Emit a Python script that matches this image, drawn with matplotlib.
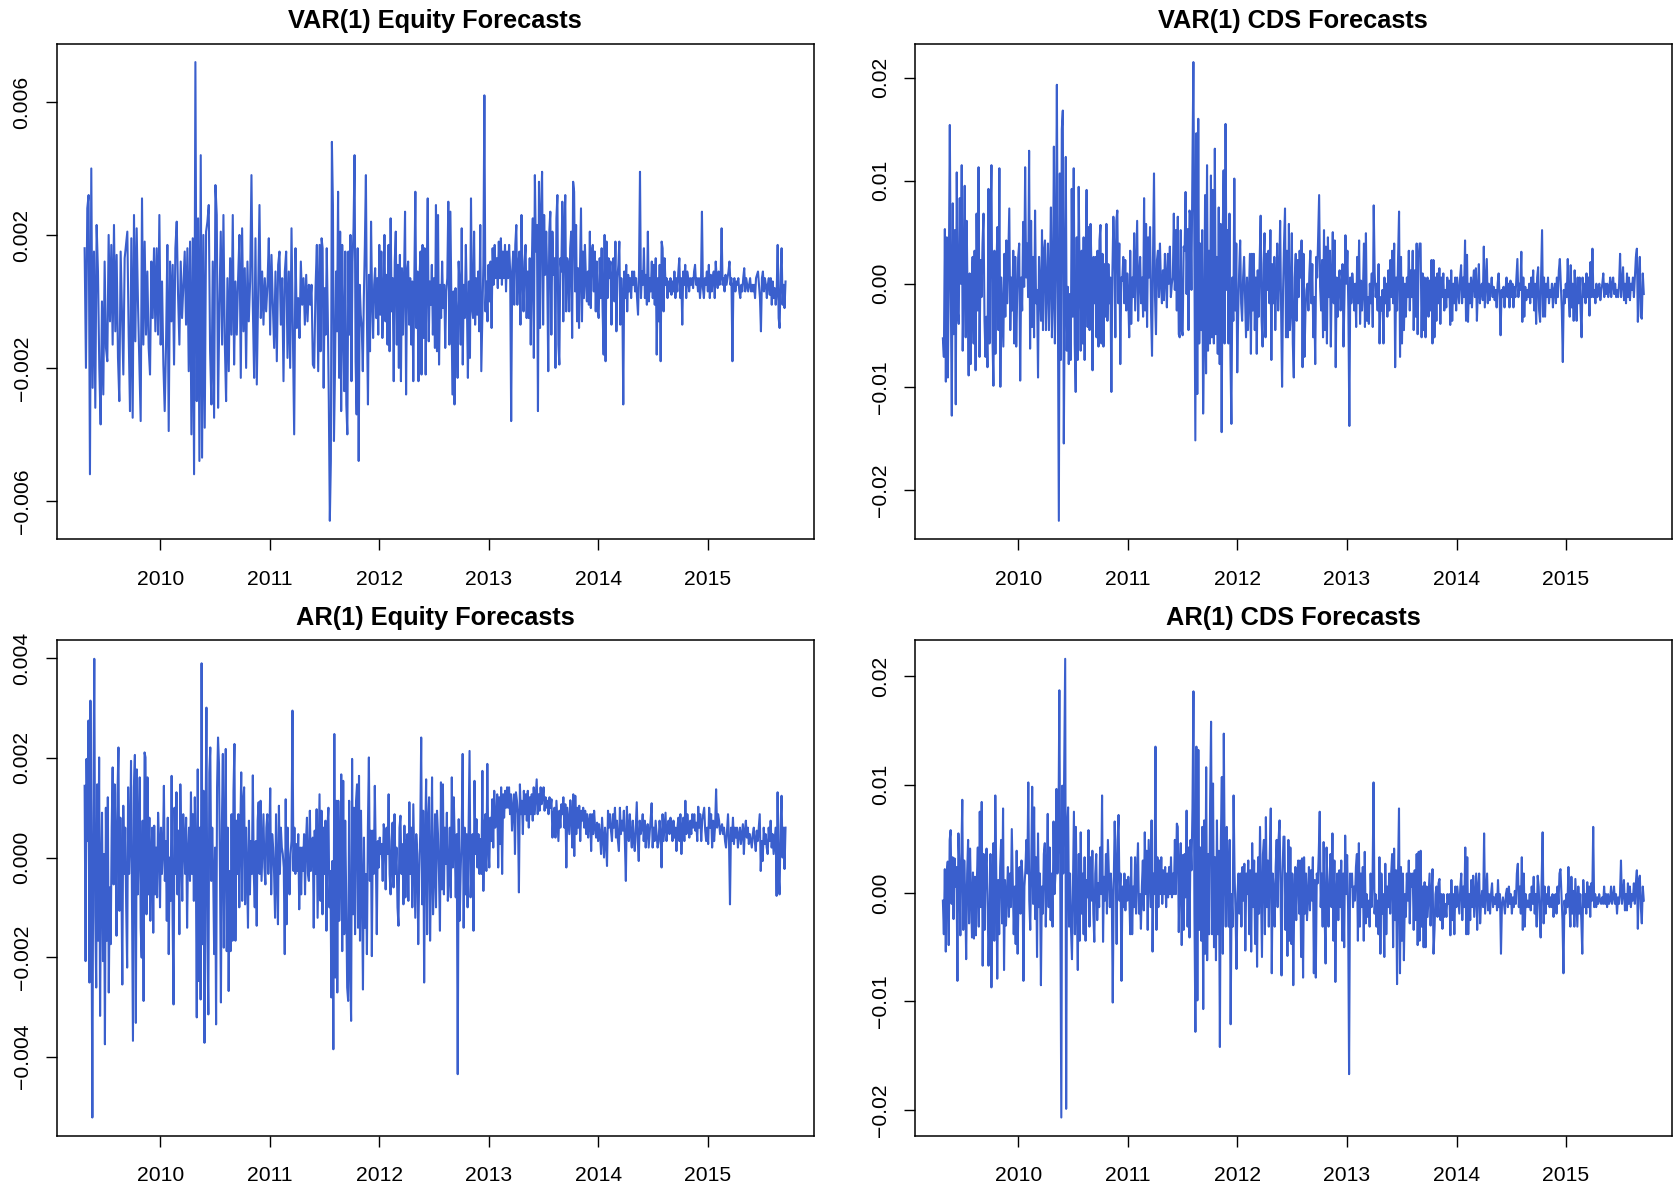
import numpy as np
import matplotlib
matplotlib.use("Agg")
import matplotlib.pyplot as plt

plt.rcParams['font.family'] = ['Liberation Sans', 'DejaVu Sans']

chunk_edges = [2009.31, 2011.455, 2013.60, 2015.71]

# VAR(1) equity forecasts, units of 1e-4
var_eq_a = [16,-20,28,32,-52,40,-26,15,-32,23, 9,-20,-37,0,-28,12,-14,-18,20,-6,
            17,-13,23,-9,14,-17,-30,15,-4,-22, 13,17,21,-10,-33,19,-35,26,-12,22,
            -1,-18,-36,31,-13,18,-10,9,-14,-22, 12,-5,16,-9,16,-10,26,-13,6,-19,
            -33,-13,17,-39,12,-6,11,-19,16,24, 2,-13,12,-5,5,15,-7,16,-21,18,
            -40,19,-52,72,-30,25,-48,44,-47,20, -38,21,24,29,-15,-31,12,-35,35,26,
            -32,-1,21,-13,26,-12,-30,7,-21,13, -10,26,-19,6,-10,7,20,-23,22,-9,
            10,-20,12,-6,6,38,-1,-23,19,-25, 2,29,-5,9,-7,7,-3,5,19,-10,
            14,-1,-14,9,-18,11,15,-7,7,-24, 9,15,-17,9,-20,22,-9,-40,16,-8,
            1,-11,12,-1,7,-7,8,-6,5,-1, 5,-19,-20,4,17,-21]
var_eq_b = [17,-15,19,16,-26,4,-10,16,-4,-30, -66,-48,48,29,-42,-21,9,-9,33,-23,
            21,-33,17,-7,-27,15,-31,-40,15,-10, 20,-24,12,22,44,-18,-34,16,-48,5,
            -4,-8,-21,1,17,38,-5,-31,8,-15, 24,1,-11,5,10,-5,7,-10,17,-4,
            15,-11,0,20,-6,8,-13,17,-15,25, -3,7,-24,12,21,-13,11,-20,14,-24,
            10,-10,7,27,-28,9,12,-7,7,-13, 6,-24,7,33,-8,9,-24,7,15,-22,
            17,-11,16,-22,7,31,-12,6,-1,11, -10,7,-14,29,-15,26,-19,5,-5,12,
            -2,5,-14,3,7,30,-13,27,-2,-28, 3,-31,4,-5,-23,12,5,-13,22,-19,
            5,-5,17,0,-23,6,-17,31,-2,-5, 21,-7,7,-4,9,-9,23,-21,-5,11,
            62,-3,6,-6,11,0,12,-8,16,5, 17,7,13,4,18,7,19,5,15,7,
            17,3,15,7,17,9,-36,9,15,-1, 17,23,-1,11,15,-7,26,7,-3,12,
            17,-5,9,-5,13,-13,11,25,-17,38, 15,23,-33,36,-8,27,39,-7,26,8,
            21,7,-21,21,27,-10,21,8]
var_eq_c = [13,-20,25,32,-13,-19,13,9,30,-6, 21,32,-3,13,11,-3,16,21,-11,36,
            33,3,23,-6,10,-8,11,28,-6,15, 1,17,7,0,9,-1,21,-2,15,17,
            3,15,-3,12,-3,-5,13,1,16,-3, -16,20,-18,18,1,13,7,12,-7,7,
            13,0,18,-9,7,11,18,-7,7,1, -31,9,1,11,-3,8,3,7,1,9,
            5,9,3,7,1,-4,9,39,1,9, 5,16,1,8,-1,21,0,7,3,12,
            1,11,-1,13,-16,7,-6,11,-18,18, 16,-3,13,5,7,1,6,3,7,2,
            6,3,9,1,7,3,9,13,1,7, -7,9,5,11,1,9,7,3,7,5,
            7,4,9,11,5,7,3,7,1,5, 27,4,1,7,5,9,3,11,1,8,
            3,7,9,1,12,7,4,9,5,7, 22,5,7,3,8,5,7,9,12,5,
            7,-18,5,7,3,6,5,7,3,1, 5,3,7,10,3,7,5,3,5,7,
            3,5,3,5,1,7,8,9,5,1, -9,7,9,3,7,5,1,5,7,2,
            7,-1,6,1,4,-1,3,17,-5,-8, 8,16,-1,5,-2,6]

# VAR(1) CDS forecasts, units of 1e-3
var_cds_a = [-5.3,-7.1,5.3,-9.5,4.5,-9.1,1.0,15.4,-1.3,-12.8, 7.8,-4.9,5.2,-11.7,10.8,-2.6,-3.9,8.3,0,11.5,
             -6.5,0.6,9.5,-5.2,6.1,-1.9,-8.9,1.0,-7.8,-0.3, 2.6,-5.8,3.2,-8.4,6.8,-2.6,11.3,-7.1,2.3,-1.3,
             3.9,6.8,-3.6,-7.1,-3.2,-8.1,9.2,-5.8,5.8,11.5, -5.2,-9.9,3.2,-6.8,1.3,5.5,-4.5,11.2,-10.0,0.6,
             -2.6,-6.1,2.9,-3.2,4.2,-1.9,2.6,7.3,-4.5,0.6, -2.6,3.2,-5.8,2.6,-6.1,-1.0,2.6,3.9,-9.4,0.6,
             -2.6,6.0,-0.3,11.3,0.6,3.9,-1.3,12.9,-6.3,6.1, -4.2,2.6,-5.2,7.1,-1.9,-0.6,-9.1,2.6,-0.3,-3.6,
             5.2,-4.5,3.2,4.2,-4.5,0,3.9,-4.5,0.6,7.4, -5.2,-1.3,13.3,-5.8,1.9,19.3,-1.3,-23.0,10.7,-7.4,
             15.0,16.8,-15.5,-0.6,12.3,-6.5,-0.3,-7.8,-1.0,-7.4, 9.2,-3.2,11.2,-5.8,-10.5,4.5,-7.4,9.4,0.6,-6.5,
             3.2,-5.8,4.5,-7.4,1.9,9.1,-4.2,5.5,-4.5,5.8, 1.0,-8.4,2.6,-1.9,2.6,-5.2,3.2,-6.1,4.2,5.7,
             -5.8,2.9,-6.1,1.9,-3.2,5.8,-3.6,1.9,-1.9,0.6, -10.5,1.0,6.5,3.2,-5.2,6.1,7.1,-1.9,3.9,-7.8,
             0.6,0.3,2.6,-1.9,2.3,-2.6,1.0,-1.3,-5.2,3.2, -3.9,0.6,-1.3,4.9,-2.6,1.9,6.1,-3.6,0.6,2.6,
             -1.9,0.6,-3.2,8.3,-2.6,5.8,-4.2,4.5,0.6,5.5, -2.6,-7.0,2.6,10.7,-1.3,-4.9,2.3,3.2,-1.3,3.9,
             0,-1.9,1.3,-1.6,2.9,0.6,-2.3,2.9,0,3.6, -1.3,0,0.6,6.8,-0.6,5.2,-2.6]
var_cds_b = [6.5,-4.9,-5.2,5.2,-4.5,-5.0,3.6,3.2,8.9,-1.0, 5.3,-4.5,7.1,6.6,-0.6,11.3,21.5,2.6,-15.2,14.6,
             -10.7,16.0,-5.8,3.9,-4.5,5.2,-12.6,-5.2,8.6,-8.7, 11.5,-6.5,3.2,-5.8,10.5,-5.2,9.1,-5.8,13.1,-4.9,
             2.6,-6.8,7.4,-7.8,5.8,-14.4,3.9,11.0,-5.8,15.5, -0.6,5.2,-5.8,6.8,-7.1,-13.6,0.6,-3.6,10.2,-2.6,
             3.9,-8.6,-2.6,1.3,4.2,-1.9,-3.6,0.6,2.6,-1.3, -5.2,0.6,-4.5,-0.6,2.9,-6.8,2.9,-2.6,2.9,-4.5,
             0.6,-6.8,1.3,-3.2,2.3,6.6,-3.6,-6.1,1.9,4.9, -5.2,2.9,-0.6,3.2,-1.9,5.2,-7.4,1.9,-1.9,2.6,
             -4.5,0,3.9,-2.6,0.6,6.1,-2.6,-10.0,-0.6,3.9, 7.3,-5.2,3.2,-5.2,5.8,-4.5,-2.6,4.9,-5.8,-9.1,
             0.6,2.9,-3.6,2.3,-1.3,3.2,0.6,4.2,-8.1,2.9, -7.1,-2.6,-0.6,0,-2.6,1.0,3.2,-1.9,1.9,-5.2,
             -1.3,-7.8,2.6,0.6,4.5,8.6,-0.3,-2.6,2.3,-5.2, 5.2,-4.5,3.6,-5.8,4.5,-1.3,3.2,-6.1,0.6,5.0,
             -1.9,4.2,-8.1,0.6,-3.2,0.3,1.3,-2.6,-0.6,1.9, -6.1,-1.3,4.7,0,3.2,-2.6,-13.8,0.6,-1.9,1.0,
             -0.3,-2.6,0,-4.2,2.6,-1.9,4.2,-3.9,0.3,-2.6, -0.6,3.9,-4.2,4.9,-3.6,-1.3,-3.9,0,-1.9,1.0,
             -4.2,7.6,1.0,-1.3,0,-2.6,1.9,-5.8,-1.3,-2.6, -0.6,-5.8,0.6,-1.9,0,-3.2,1.3,-2.6,2.3,-1.3,
             3.2,-1.9,3.9,-8.1,0.6,-2.6,2.6,7.0,-7.1,2.6, -5.8,0.6,-4.5,0,-3.2,0.6,-1.3,3.2,-2.6,1.3,
             -1.3]
var_cds_c = [3.2,-4.5,1.3,-3.2,3.9,-4.9,2.6,3.9,3.9,-5.2, 1.0,-4.5,0.6,-5.2,0,0.6,-3.2,0.3,-2.6,2.3,
             -5.8,2.3,-5.2,0.6,-3.6,1.0,-1.9,1.5,-3.9,0.6, -1.3,1.0,-2.6,-0.6,-2.3,0.6,-1.3,0.3,-4.0,1.3,
             -3.6,0,-1.9,0.6,-2.6,0.6,-0.6,-1.9,0.6,1.8, -1.9,0.6,-1.3,4.2,-3.6,2.8,-3.7,0,-1.9,0.6,
             -2.3,0,1.3,-1.3,1.5,-3.6,-0.6,1.9,-1.9,-0.6, 0,-1.6,3.6,-2.3,0,2.4,-1.9,0,-1.6,-0.6,
             0.6,-1.3,-0.3,-1.6,-0.6,-2.3,0,1.0,-1.3,-5.0, -0.6,-1.3,-0.3,-2.3,-0.6,0.6,-1.3,0,-2.3,0.3,
             -1.3,0,-2.3,-0.3,-1.3,0.6,2.4,-1.3,0,-0.6, 3.1,-3.7,0.6,-3.2,-0.3,-1.6,-0.6,-1.3,0,-1.9,
             0.6,-1.3,1.3,-2.6,0,-3.9,0.6,1.6,-2.6,-3.7, 0.6,5.2,-3.2,0.6,-3.2,0,-1.3,0.6,-1.9,-0.6,
             -1.3,0,-2.3,-0.6,0,-1.9,0.6,-1.3,1.3,2.4, 0,-2.6,-7.6,-0.6,-1.9,0,-1.3,2.4,-1.3,-3.2,
             1.8,-2.3,0,-3.6,1.3,-1.3,-3.6,0.6,-1.9,0.6, -2.6,-5.2,0.6,-1.3,0,-1.9,1.0,-1.3,0.6,-3.1,
             2.1,-1.3,3.4,-1.3,-0.6,-1.9,0,-1.3,-0.6,0, -1.6,-0.6,0,1.0,-1.3,0,-1.0,0,-1.3,-0.6,
             0.6,-1.3,0,0.6,-1.0,0,-1.3,-0.6,-1.3,0, 2.9,-1.3,0,1.6,-1.6,0,-1.9,1.0,-1.3,0.6,
             -1.6,0,-0.6,0.6,-1.3,0.6,2.6,3.4,-3.7,0.6, 2.6,-3.2,-3.4,1.0,-1.0]

# AR(1) equity forecasts, units of 1e-4
ar_eq_a = [14.4,-20.8,19.8,3.3,27.5,-25.1,31.5,-3.3,-52.2,8.7, 39.9,-11.4,-26.1,14.7,-16.7,20.1,-31.8,-3.3,9.0,-20.8,
           0.7,-37.5,10.0,-16.7,12.1,-27.1,-6.0,-17.4,6.0,18.1, -5.4,14.7,3.3,-15.7,12.7,22.1,-10.7,8.0,-3.3,-25.5,
           10.4,-3.3,6.0,-10.0,-22.1,14.1,-3.3,3.3,19.4,-8.7, -36.8,14.1,20.6,-33.2,17.7,-7.4,3.3,16.1,-14.1,-20.1,
           7.4,-28.8,21.1,20.1,-11.4,16.1,-7.4,8.0,-12.7,0, 6.0,-15.1,6.4,-7.4,2.0,-8.0,9.0,3.3,-10.0,6.0,
           -3.3,1.3,14.4,-4.7,3.3,-12.7,8.0,-19.4,0,-8.7, 16.4,-12.1,-29.5,10.0,-3.3,13.1,-7.4,5.4,-15.4,14.7,
           2.0,-8.7,8.7,3.3,-3.3,8.0,-14.1,0.7,6.0,-4.7, 13.1,-3.3,8.7,-8.7,12.1,0.7,-32.1,17.7,-24.8,6.0,
           -28.5,39.0,-17.4,13.4,-37.2,2.7,30.1,-16.7,-31.5,17.1, 22.1,-4.7,6.0,-3.3,-19.4,2.0,-33.5,14.1,24.1,18.8,
           -2.7,-29.1,6.7,20.8,-18.1,3.3,21.8,-18.8,6.0,-26.8, -2.7,-18.8,8.7,-16.7,13.4,22.8,-16.7,7.4,-3.3,8.7,
           -10.0,4.7,17.1,-8.7,11.4,14.1,-9.4,6.0,-3.3,-14.1, 7.4,-7.4,3.3,-3.3,16.5,-3.3,-10.0,3.3,-13.7,7.4,
           11.1,-3.3,11.4,-4.7,2.0,8.7,-2.0,-5.4,6.0,8.7, -3.3,3.3,13.9,-7.4,4.7,2.0,-3.3,-12.1,8.7,-3.3,
           -13.4,10.4,-3.3,6.0,2.0,0.7,-2.0,-19.4,11.7,-13.4, 6.0,-2.0,-7.4,0.7,3.3,29.5,-2.7,6.0,-3.3,2.7,
           -2.7,4.7,-10.4,2.0,-7.4,2.0,-2.7,4.7,-7.4,3.3, 8.0,-3.3,-4.7,9.4,-2.7,2.0,4.0,-14.1,5.4,-3.3,
           9.7,-12.1,0]
ar_eq_b = [12.7,-8.7,9.4,-11.4,6.0,-3.3,7.4,-14.7,6.0,10.0, -10.0,-2.7,-28.1,-0.7,-38.5,24.8,-24.1,11.4,-27.1,11.4,
           -12.7,-2.7,16.7,-18.8,15.4,-15.4,7.4,-7.4,-26.1,-28.8, 11.4,-22.1,-32.8,19.8,-11.4,10.0,-15.4,11.4,14.7,-14.1,
           16.4,-16.7,9.4,-6.0,-26.5,4.0,-14.1,-3.3,-19.4,6.0, 20.1,-4.7,5.4,-19.8,5.4,-3.3,14.4,0.7,-15.4,3.3,
           -2.0,4.0,0.7,2.7,-4.7,6.7,4.7,-6.4,6.0,0.7, 12.7,-3.3,-7.4,3.3,7.0,-6.0,8.7,-3.3,2.0,-10.0,
           -13.7,6.0,8.4,-3.3,2.7,-9.4,6.4,-8.0,2.0,4.7, -8.7,11.1,-3.3,6.0,-10.0,10.7,-0.7,-12.1,4.7,0.7,
           -17.4,-3.3,4.7,24.1,-9.4,9.4,-25.1,3.3,15.7,-15.4, 7.4,12.1,-16.7,-3.3,16.1,-11.4,-3.3,8.7,-10.0,9.4,
           4.7,-3.3,-14.7,15.1,-6.4,14.7,-7.4,6.0,-1.3,9.0, -8.7,-3.3,6.0,-8.0,16.1,-2.0,12.1,2.7,-8.0,4.7,
           -43.5,7.7,-12.7,-2.7,4.7,20.8,-14.1,6.0,-7.4,4.7, -10.0,6.0,21.4,-8.0,-2.7,4.7,-14.7,15.4,0.7,7.7,
           -2.0,4.7,-3.3,3.7,-3.3,17.4,-6.7,6.0,8.7,-2.7, 18.8,2.0,-2.0,8.0,3.3,11.7,2.0,13.4,6.0,7.4,
           12.7,-2.0,12.1,2.7,14.1,-3.3,12.7,8.0,13.4,10.0, 14.1,10.0,14.1,8.7,12.7,5.4,10.0,12.7,0.7,13.1,
           11.4,8.7,-7.0,14.7,8.7,11.4,4.7,13.4,8.7,12.7, 7.4,13.4,6.0,12.1,8.7,12.7,7.4,14.1,8.7,12.1,
           15.7,8.7,12.7,9.4,14.1,10.7,12.1,14.1,9.4,12.1, 10.0,11.4,8.7,12.1,10.0,11.7,4.0,8.7]
ar_eq_c = [10.0,4.0,11.4,7.4,3.3,9.4,6.0,10.7,8.7,12.1, 6.0,10.7,-2.0,10.0,7.4,4.7,11.5,8.7,2.0,12.7,
           0.3,12.4,4.7,10.0,6.0,10.4,3.3,9.4,7.4,10.0, 6.0,9.4,4.7,8.7,4.0,7.4,8.7,1.3,8.7,4.7,
           9.4,6.0,4.0,7.0,3.3,6.7,4.7,0.7,8.0,4.0, 0,6.0,3.3,-1.7,9.4,6.0,8.7,5.4,3.3,8.7,
           6.0,10.0,4.0,7.4,3.3,1.3,10.0,4.7,7.4,5.4, 9.4,3.3,-4.7,10.2,6.0,3.3,8.7,4.7,2.0,7.4,
           3.3,1.3,6.0,11.1,3.3,-0.7,7.4,4.7,6.0,8.7, 3.3,7.4,2.0,5.4,6.7,2.0,4.7,7.7,10.9,2.0,
           6.0,3.3,7.4,4.7,2.0,3.3,7.4,4.7,-2.0,8.7, 3.3,6.0,9.0,3.3,6.0,7.4,4.7,8.0,6.0,3.3,
           7.4,4.0,6.0,1.3,6.0,8.0,3.3,8.7,0.7,6.0, 8.0,3.3,11.4,4.7,8.7,6.0,4.0,7.4,4.7,8.7,
           6.0,8.7,5.4,7.0,3.3,10.2,6.0,8.7,3.3,7.4, 8.7,10.0,5.4,3.3,6.0,2.7,10.0,6.0,8.7,2.0,
           7.4,3.3,6.4,13.7,6.0,8.7,7.4,4.7,6.0,6.7, 4.7,6.0,3.3,2.0,5.4,8.7,3.3,-9.4,6.0,3.3,
           8.0,2.7,6.0,4.0,6.0,2.0,4.7,6.0,2.7,4.7, 6.7,0.7,5.4,7.4,4.0,6.0,2.7,4.7,3.3,2.0,
           4.7,6.0,3.3,1.3,5.4,3.3,6.0,8.7,-2.7,3.3, -0.7,6.0,2.7,4.7,2.0,0.7,6.0,3.3,7.4,2.0,
           4.7,0.7,3.3,6.0,-7.7,13.1,-3.3,-7.4,6.4,12.4, 0,6.0,-2.3,6.0]

# AR(1) CDS forecasts, units of 1e-3
ar_cds_a = [-0.7,-3.8,2.2,-5.4,1.8,2.9,-4.8,4.9,5.8,-1.0, 3.3,-2.4,3.2,0.6,2.4,-8.1,5.5,2.4,-3.9,3.3,
            8.6,-3.4,3.0,-0.1,-6.1,1.8,4.9,-2.8,4.1,-0.4, -4.1,1.9,-4.2,1.5,-3.9,1.2,4.2,-3.1,7.5,-1.3,
            8.4,-6.7,3.6,-3.4,1.8,4.1,-0.1,-6.7,-2.7,3.6, -8.7,-0.1,4.6,-4.4,9.0,1.8,-7.9,1.2,-3.8,2.4,
            4.9,-2.8,7.8,-7.1,1.2,-3.0,-0.1,2.4,-2.2,1.8, -1.3,5.9,0.9,-3.8,0.6,-4.7,3.9,-5.6,-0.1,2.4,
            -1.9,3.0,1.5,-8.1,0.6,2.1,4.9,1.8,10.2,-0.7, -3.4,2.4,9.8,-1.0,7.9,-2.4,3.3,-5.9,5.5,-1.3,
            1.8,-8.5,0.6,-1.9,3.6,4.6,-3.1,1.8,7.3,-1.3, 4.2,-2.5,1.8,-3.1,6.6,-0.1,1.8,9.6,1.8,4.9,
            18.7,-1.9,-20.7,9.9,1.8,11.5,21.6,-19.9,6.1,7.9, -3.1,1.8,-3.4,-6.1,0.6,7.5,-3.8,6.1,-1.3,-7.1,
            3.6,-4.4,5.6,-1.9,1.8,-3.8,3.3,-4.4,1.2,-0.4, 5.8,-3.1,3.3,-0.7,3.9,-1.9,-4.5,1.8,3.6,-2.5,
            0.9,-1.3,4.2,-0.1,9.0,-4.5,1.5,-0.7,3.6,-1.9, 4.9,1.8,-1.3,1.8,-0.1,-10.1,0.9,6.6,2.4,-4.7,
            4.9,7.2,-0.7,1.8,-8.1,0.6,-1.3,1.8,-1.6,1.2, -0.7,1.5,-0.1,-3.8,3.3,-3.8,0.6,-1.3,3.3,-1.9,
            1.8,4.6,-1.9,-0.1,-3.3,0.6,3.0,-1.6,5.6,-0.1, 3.9,-3.4,4.9,1.8,-1.3,6.7,-5.4,1.8,-0.1,13.5,
            -3.4,3.3,-1.3,3.0,-0.1,3.3,-1.0,2.1,-0.1,2.4, -1.3,1.8,-0.4,2.4,-0.1,3.3,-0.4,1.8,-0.1,4.9,
            -0.1,6.4]
ar_cds_b = [6.1,-3.6,1.8,4.6,-4.8,3.5,-3.4,3.6,-0.4,7.6, -3.1,4.2,-4.1,4.9,2.1,7.9,18.6,-1.9,-12.8,13.5,
            -9.9,13.2,-3.4,4.2,-4.4,6.1,-10.7,6.7,-5.6,11.6, -6.2,3.6,-3.8,8.2,15.8,-3.8,10.1,-5.0,3.3,-6.2,
            6.7,-3.8,3.9,-14.2,4.9,10.7,-5.6,14.7,1.8,-3.1, 6.1,0.6,-3.1,4.9,-12.1,-0.1,-3.1,9.0,1.8,-1.9,
            -7.0,-0.1,1.8,-1.9,1.8,-3.1,2.4,-0.7,2.7,-5.3, 1.8,-0.1,3.0,-3.8,2.1,-5.4,4.6,-1.3,3.0,-4.7,
            1.8,-6.8,3.3,-1.9,6.1,-0.1,-5.9,3.6,4.9,-3.8, 7.0,-1.3,3.0,-3.1,3.6,7.8,-7.4,1.8,0.2,-3.1,
            2.4,4.9,-1.3,5.0,6.7,0.2,-7.6,1.8,5.2,5.2, -3.4,1.8,-5.8,4.9,-4.4,4.2,-4.7,1.8,-8.5,-0.4,
            2.4,-2.5,1.8,3.0,-1.9,3.0,-5.9,3.2,-7.8,3.3, -1.9,1.8,-2.5,-0.4,2.4,-1.6,2.1,-0.7,3.3,-7.4,
            1.2,-7.8,1.8,0.9,3.6,7.5,-1.3,1.8,-3.1,4.7, -1.9,-6.5,4.2,-0.1,-3.1,1.2,3.6,-1.3,5.5,-4.4,
            3.0,-8.2,-0.1,1.8,-2.5,2.1,-1.3,3.0,-4.4,1.8, -5.0,5.3,-0.1,3.5,-1.6,-16.7,1.8,0.6,1.8,-1.3,
            0.6,-0.7,2.4,3.6,-4.4,4.6,-3.1,1.8,-1.3,2.4, -4.4,3.8,-2.8,-0.1,-2.2,-0.7,-3.1,1.8,-1.3,1.2,
            10.2,-1.9,-0.1,-3.1,-0.7,-3.8,3.3,-5.6,1.8,-1.9, -0.1,-5.9,2.7,-3.8,0.6,-1.3,1.8,-1.9,1.8,3.6,
            -5.0,4.1,-2.5,2.1,-8.4,1.8,7.8,-7.4,2.4,-4.4, 1.8,-6.2,-0.1,-2.2,1.8,-0.7,3.0,-2.8,1.8,0.6]
ar_cds_c = [1.8,-3.4,2.1,-2.5,3.6,-4.8,3.8,-4.4,3.9,-3.1, 0.6,-5.0,1.0,-5.0,0.6,-2.2,-0.1,1.8,-3.0,-0.1,
            2.2,-5.6,-3.4,-0.1,0.6,-2.2,0.9,1.3,-2.5,-0.1, -3.3,-0.1,-2.2,-1.0,-2.2,-0.1,-1.0,-0.1,-3.9,1.2,
            -2.5,-0.1,-3.8,0.6,-1.3,0.6,-0.7,-1.9,0.6,1.8, -2.5,0.6,-1.3,4.2,-3.8,3.3,-3.8,-0.1,-2.5,1.2,
            -1.3,1.6,-2.2,-0.1,1.8,-3.4,0.6,1.8,-2.8,-0.7, 0.2,-1.3,5.5,-1.9,-0.1,1.8,-1.6,-0.1,-1.9,-0.1,
            0.9,-1.3,-0.4,-1.0,-0.1,-1.6,1.2,-1.3,-0.1,-5.6, -1.0,-0.4,-1.0,-1.9,-0.1,0.4,-1.3,0.6,-1.0,-0.1,
            -1.9,-0.4,-1.3,0.2,-1.0,1.8,2.7,-1.3,0.6,-1.9, 3.3,-3.4,1.8,-3.1,-0.1,-1.3,-0.7,-1.3,-0.1,-1.6,
            0.6,-1.0,1.5,-1.9,-0.1,-3.1,1.6,0.6,-1.9,-4.1, 1.2,5.6,-2.8,0.6,-1.9,-0.1,-1.0,0.6,-1.3,-0.4,
            -1.3,-0.1,-2.2,-0.7,-0.1,-1.9,0.6,-1.0,1.8,2.2, -0.1,-2.5,-7.4,-0.7,-1.9,-0.1,-1.3,2.4,-1.0,-3.1,
            1.5,-1.9,0.2,-3.1,1.3,-1.0,-3.1,0.6,-1.9,-0.1, -2.5,-5.6,1.2,-1.3,-0.1,-1.9,1.0,-1.3,0.6,-2.2,
            0.9,-0.7,6.1,-1.3,-0.1,-1.3,-0.4,-1.0,-0.1,-0.7, -1.0,-0.4,-1.0,0.6,-1.0,-0.1,-1.3,-0.1,-1.0,-0.7,
            0.6,-1.0,-0.4,0.6,-1.0,-0.1,-1.9,-0.4,-1.0,-0.1, 3.0,-1.0,-0.1,1.2,-1.6,-0.1,-1.6,0.9,-1.0,0.6,
            -1.3,-0.1,-0.7,0.9,-1.0,0.9,2.1,-3.3,1.2,1.6, -1.3,-2.8,0.6,-0.7]

titles = ["VAR(1) Equity Forecasts", "VAR(1) CDS Forecasts",
          "AR(1) Equity Forecasts", "AR(1) CDS Forecasts"]
series = [(var_eq_a, var_eq_b, var_eq_c), (var_cds_a, var_cds_b, var_cds_c),
          (ar_eq_a, ar_eq_b, ar_eq_c), (ar_cds_a, ar_cds_b, ar_cds_c)]
scales = [1e-4, 1e-3, 1e-4, 1e-3]
yticks = [[-0.006, -0.002, 0.002, 0.006],
          [-0.02, -0.01, 0.0, 0.01, 0.02],
          [-0.004, -0.002, 0.0, 0.002, 0.004],
          [-0.02, -0.01, 0.0, 0.01, 0.02]]
ytick_fmt = ["{:.3f}", "{:.2f}", "{:.3f}", "{:.2f}"]
years = [2010, 2011, 2012, 2013, 2014, 2015]


def build(chunks, scale):
    xs, ys = [], []
    for i, ch in enumerate(chunks):
        last = i == len(chunks) - 1
        xs.append(np.linspace(chunk_edges[i], chunk_edges[i + 1], len(ch), endpoint=last))
        ys.append(np.array(ch, dtype=float) * scale)
    return np.concatenate(xs), np.concatenate(ys)


fig = plt.figure(figsize=(16.74, 11.92), dpi=100)
boxes = [[0.0338, 0.5477, 0.4522, 0.4156], [0.5465, 0.5477, 0.4522, 0.4156],
         [0.0338, 0.0471, 0.4522, 0.4156], [0.5465, 0.0471, 0.4522, 0.4156]]

line_color = "#3A5FCD"

for k in range(4):
    ax = fig.add_axes(boxes[k])
    x, y = build(series[k], scales[k])
    ax.plot(x, y, color=line_color, linewidth=1.5)
    ax.margins(x=0.04, y=0.04)
    ax.set_title(titles[k], fontsize=18.3, fontweight='bold', pad=11)
    ax.set_xticks(years)
    ax.set_xticklabels([str(yr) for yr in years])
    ax.set_yticks(yticks[k])
    labels = [ytick_fmt[k].format(v).replace("-", "\u2212") for v in yticks[k]]
    ax.set_yticklabels(labels, rotation=90, va='center')
    ax.tick_params(direction='out', length=8, width=1.0, labelsize=15.2)
    ax.tick_params(axis='x', pad=14)
    ax.tick_params(axis='y', pad=10)
    for sp in ax.spines.values():
        sp.set_linewidth(1.1)

fig.savefig("out.png", dpi=100)
